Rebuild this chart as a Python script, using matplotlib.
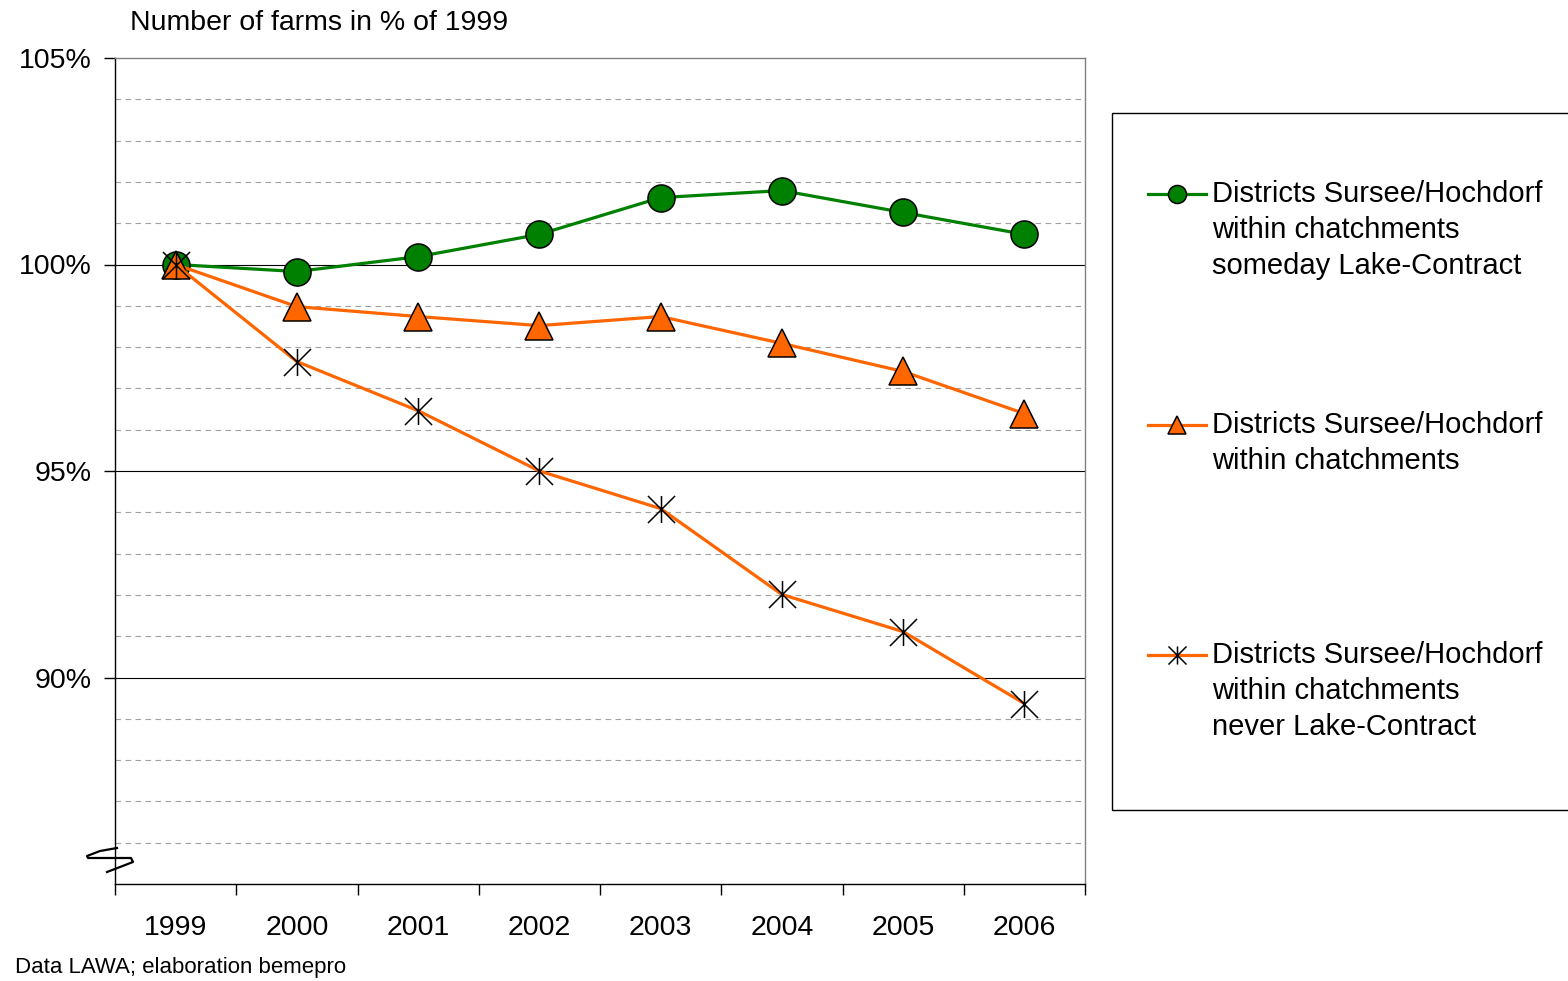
import matplotlib
matplotlib.use("Agg")
import matplotlib.pyplot as plt
from matplotlib.lines import Line2D
from matplotlib.patches import Rectangle
from matplotlib.path import Path

plt.rcParams['font.family'] = ['Liberation Sans', 'DejaVu Sans']

years = ["1999", "2000", "2001", "2002", "2003", "2004", "2005", "2006"]
someday_contract = [100.0, 99.83, 100.19, 100.73, 101.62, 101.79, 101.26, 100.73]
within_catchments = [100.0, 98.98, 98.74, 98.52, 98.74, 98.09, 97.41, 96.39]
never_contract = [100.0, 97.65, 96.46, 95.0, 94.09, 92.01, 91.11, 89.37]

labels = [
    "Districts Sursee/Hochdorf\nwithin chatchments\nsomeday Lake-Contract",
    "Districts Sursee/Hochdorf\nwithin chatchments",
    "Districts Sursee/Hochdorf\nwithin chatchments\nnever Lake-Contract",
]

GREEN = "#008000"
ORANGE = "#FF6600"

# asterisk marker: vertical bar plus an X
star = Path([(0, -1), (0, 1), (-1, -1), (1, 1), (-1, 1), (1, -1)],
            [Path.MOVETO, Path.LINETO, Path.MOVETO, Path.LINETO, Path.MOVETO, Path.LINETO])

W, H = 1568, 981
fig = plt.figure(figsize=(W / 100, H / 100), dpi=100)
ax = fig.add_axes([115 / W, 1 - 884 / H, (1085 - 115) / W, (884 - 58) / H])

x = list(range(len(years)))
styles = [
    dict(color=GREEN, marker="o", markerfacecolor=GREEN),
    dict(color=ORANGE, marker="^", markerfacecolor=ORANGE),
    dict(color=ORANGE, marker=star, markerfacecolor="none"),
]
series = [someday_contract, within_catchments, never_contract]
for vals, st, z in zip(series, styles, [3, 4, 5]):
    ax.plot(x, vals, lw=2.3, markersize=19.5, markeredgecolor="black",
            markeredgewidth=1.1, zorder=z, clip_on=False, **st)

ax.set_xlim(-0.5, len(years) - 0.5)
ax.set_ylim(85, 105)

# grid
for v in range(86, 105):
    if v % 5 == 0:
        ax.axhline(v, color="black", lw=0.8, zorder=1)
    else:
        ax.axhline(v, color="#A0A0A0", lw=0.8, ls=(0, (5, 4)), zorder=1)

ax.set_yticks([90, 95, 100, 105])
ax.set_yticklabels(["90%", "95%", "100%", "105%"], fontsize=20.5)
ax.tick_params(axis="y", length=8, width=1, pad=9, direction="out")

ax.set_xticks([i - 0.5 for i in range(len(years) + 1)])
ax.set_xticklabels([])
ax.set_xticks(x, minor=True)
ax.set_xticklabels(years, minor=True, fontsize=20.5)
ax.tick_params(axis="x", which="major", length=8, width=1, direction="out")
ax.tick_params(axis="x", which="minor", length=0, pad=22)

ax.spines["top"].set_color("#808080")
ax.spines["right"].set_color("#808080")
ax.spines["left"].set_color("black")
ax.spines["bottom"].set_color("black")
for s in ax.spines.values():
    s.set_linewidth(1)

# axis break squiggle
pts = [(117, 848), (100, 851), (87, 856), (88, 858), (131, 858), (133, 862), (107, 872)]
fig.add_artist(Line2D([p[0] / W for p in pts], [1 - p[1] / H for p in pts],
                      color="black", lw=1.6, transform=fig.transFigure))

fig.text(130 / W, 1 - 23 / H, "Number of farms in % of 1999", fontsize=20.5, va="center", ha="left")
fig.text(15 / W, 1 - 968 / H, "Data LAWA; elaboration bemepro", fontsize=16, va="center", ha="left")

# legend box and entries
fig.add_artist(Rectangle((1112 / W, 1 - 810 / H), 0.4, (810 - 113) / H, transform=fig.transFigure,
                         facecolor="white", edgecolor="black", lw=1, zorder=0))
entry_y = [194, 425, 655]
for lab, st, ey in zip(labels, styles, entry_y):
    yf = 1 - ey / H
    fig.add_artist(Line2D([1148 / W, 1206 / W], [yf, yf], lw=2.3, color=st["color"],
                          transform=fig.transFigure))
    fig.add_artist(Line2D([1177 / W], [yf], marker=st["marker"], markersize=13,
                          markerfacecolor=st["markerfacecolor"], markeredgecolor="black",
                          markeredgewidth=1.1, linestyle="none", transform=fig.transFigure))
    fig.text(1212 / W, 1 - (ey - 14) / H, lab, fontsize=21, ha="left", va="top",
             linespacing=1.36, transform=fig.transFigure)

fig.savefig("out.png", dpi=100)
